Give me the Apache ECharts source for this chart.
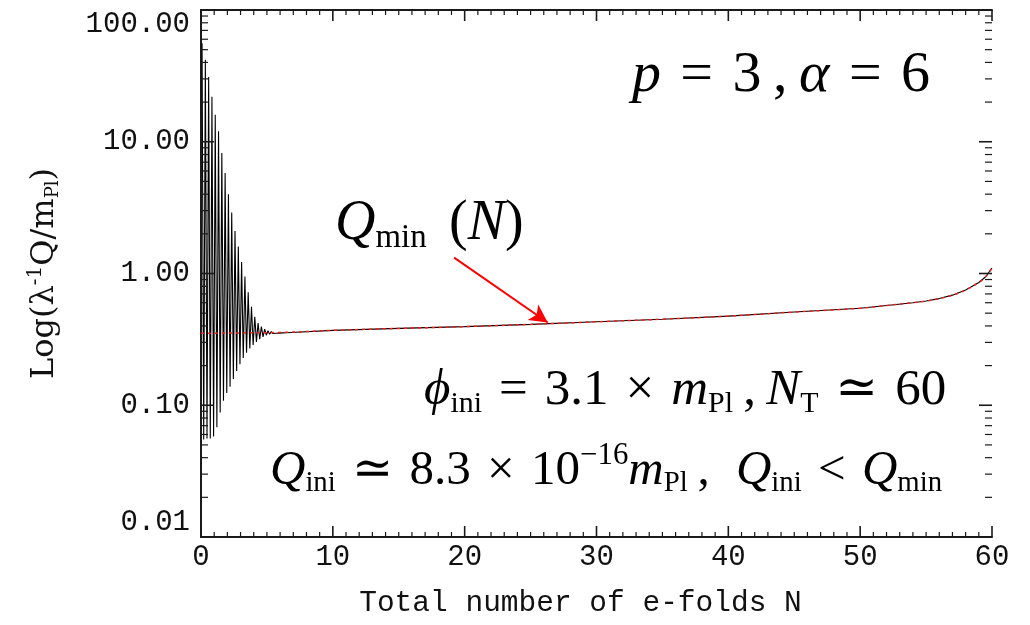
<!DOCTYPE html>
<html><head><meta charset="utf-8">
<script src="https://cdn.jsdelivr.net/npm/echarts@6/dist/echarts.min.js"></script>
<style>html,body{margin:0;padding:0;background:#fff}#c{width:1030px;height:625px}</style>
</head><body><div id="c"></div>
<script>
// ---- data ----
const xTickValues = [0, 10, 20, 30, 40, 50, 60];
const xMinorTicks = [1,2,3,4,5,6,7,8,9,11,12,13,14,15,16,17,18,19,21,22,23,24,25,26,27,28,29,31,32,33,34,35,36,37,38,39,41,42,43,44,45,46,47,48,49,51,52,53,54,55,56,57,58,59];
const yTickValues = [0.01, 0.1, 1, 10, 100];
const yMinorTicks = [0.02,0.03,0.04,0.05,0.06,0.07,0.08,0.09,0.2,0.3,0.4,0.5,0.6,0.7,0.8,0.9,2,3,4,5,6,7,8,9,20,30,40,50,60,70,80,90];

// oscillation maxima of Q(N)
const peakN = [0.08,0.33,0.58,0.83,1.08,1.33,1.58,1.83,2.08,2.33,2.58,2.83,3.08,3.33,3.58,3.83,4.08,4.33,4.58,4.83,5.08,5.33,5.58,5.83,6.08,6.33];
const peakQ = [56,42,31,22,16,12,8.2,5.8,4.0,2.9,2.1,1.6,1.22,0.95,0.72,0.56,0.47,0.42,0.395,0.378,0.368,0.363,0.36,0.358,0.357,0.357];
// oscillation minima of Q(N)
const troughN = [0.205,0.455,0.705,0.955,1.205,1.455,1.705,1.955,2.205,2.455,2.705,2.955,3.205,3.455,3.705,3.955,4.205,4.455,4.705,4.955,5.205,5.455,5.705,5.955,6.205,6.455];
const troughQ = [0.055,0.056,0.056,0.058,0.068,0.088,0.108,0.124,0.138,0.158,0.182,0.205,0.228,0.25,0.27,0.287,0.302,0.317,0.33,0.34,0.346,0.35,0.352,0.353,0.354,0.355];

// Q_min(N), which Q(N) follows after the oscillations
const qminN = [0, 3, 6, 10, 15, 20, 25, 30, 35, 40, 45, 50, 52, 54, 55, 56, 57, 58, 59, 59.5, 60];
const qminQ = [0.352,0.354,0.357,0.37,0.383,0.395,0.411,0.43,0.45,0.475,0.51,0.545,0.572,0.6,0.618,0.645,0.685,0.75,0.855,0.94,1.1];

// annotation arrow (data coords: N, Q)
const arrowFrom = [19.2, 1.32];
const arrowTo = [26.3, 0.425];

// ---- build series data ----
const qData = [];
for (let i = 0; i < peakN.length; i++) {
  qData.push([peakN[i], peakQ[i]]);
  qData.push([troughN[i], troughQ[i]]);
}
for (let i = 0; i < qminN.length; i++) {
  if (qminN[i] > troughN[troughN.length - 1]) qData.push([qminN[i], qminQ[i]]);
}
const qminData = qminN.map((n, i) => [n, qminQ[i]]);

const AX = '#1a1a1a';
const labelFont = 'Liberation Mono';
const serif = '"Liberation Serif", "DejaVu Serif", serif';
const dserif = '"DejaVu Serif", serif';

function tickSeries(values, isX, len, width) {
  return {
    type: 'custom', xAxisIndex: 0, yAxisIndex: 0, silent: true, clip: false, z: 6,
    data: values.map(v => isX ? [v, 1] : [0, v]),
    renderItem: function (params, api) {
      const cs = params.coordSys;
      const st = { stroke: AX, lineWidth: width };
      if (isX) {
        const p = api.coord([api.value(0), 1]);
        return { type: 'group', children: [
          { type: 'line', shape: { x1: p[0], y1: cs.y + cs.height, x2: p[0], y2: cs.y + cs.height - len }, style: st },
          { type: 'line', shape: { x1: p[0], y1: cs.y, x2: p[0], y2: cs.y + len }, style: st }
        ] };
      }
      const p = api.coord([0, api.value(1)]);
      return { type: 'group', children: [
        { type: 'line', shape: { x1: cs.x, y1: p[1], x2: cs.x + len, y2: p[1] }, style: st },
        { type: 'line', shape: { x1: cs.x + cs.width - len, y1: p[1], x2: cs.x + cs.width, y2: p[1] }, style: st }
      ] };
    }
  };
}

function mathText(x, y, text, size) {
  const k = size / 46;
  return {
    type: 'text', x: x, y: y, z: 100,
    style: {
      text: text,
      align: 'left', verticalAlign: 'middle',
      rich: {
        rm: { fontFamily: serif, fontSize: 46 * k, color: '#000' },
        it: { fontFamily: serif, fontSize: 46 * k, fontStyle: 'italic', color: '#000' },
        sub: { fontFamily: serif, fontSize: 27 * k, color: '#000', padding: [24 * k, 0, 0, 0] },
        sup: { fontFamily: serif, fontSize: 29 * k, color: '#000', padding: [0, 0, 28 * k, 0] }
      }
    }
  };
}

const noTick = { show: false };
const S = '\u2004', T = '\u2009';
const chart = echarts.init(document.getElementById('c'), null, { renderer: 'canvas' });
chart.setOption({
  animation: false,
  backgroundColor: '#fff',
  grid: { left: 201, right: 38, top: 10, bottom: 88 },
  xAxis: [
    {
      type: 'value', min: 0, max: 60, interval: 10, position: 'bottom',
      axisLine: { show: true, lineStyle: { color: AX, width: 2 } }, splitLine: { show: false },
      name: 'Total number of e-folds N', nameLocation: 'middle', nameGap: 51,
      nameTextStyle: { fontFamily: labelFont, fontSize: 29.5, color: '#111', padding: [0, 32, 0, 0] },
      axisTick: noTick, minorTick: noTick,
      axisLabel: { fontFamily: labelFont, fontSize: 29, color: '#111', margin: 6 }
    },
    {
      type: 'value', min: 0, max: 60, interval: 10, position: 'top',
      axisLine: { show: true, lineStyle: { color: AX, width: 2 } }, splitLine: { show: false },
      axisTick: noTick, minorTick: noTick, axisLabel: { show: false }
    }
  ],
  yAxis: [
    {
      type: 'log', logBase: 10, min: 0.01, max: 100, position: 'left',
      axisLine: { show: true, lineStyle: { color: AX, width: 2 } }, splitLine: { show: false },
      name: '{a|Log(λ}{sup|-1}{a|Q/m}{sub|Pl}{a|)}', nameLocation: 'middle', nameGap: 138, nameRotate: 90,
      nameTextStyle: {
        fontFamily: dserif, fontSize: 32, color: '#111',
        rich: {
          a: { fontFamily: dserif, fontSize: 32, color: '#111' },
          sup: { fontFamily: dserif, fontSize: 20, color: '#111', padding: [0, 0, 17, 0] },
          sub: { fontFamily: dserif, fontSize: 18, color: '#111', padding: [17, 0, 0, 0] }
        }
      },
      axisTick: noTick, minorTick: noTick,
      axisLabel: {
        fontFamily: labelFont, fontSize: 29, color: '#111', margin: 11,
        formatter: v => v.toFixed(2),
        verticalAlignMaxLabel: 'top', verticalAlignMinLabel: 'bottom'
      }
    },
    {
      type: 'log', logBase: 10, min: 0.01, max: 100, position: 'right',
      axisLine: { show: true, lineStyle: { color: AX, width: 2 } }, splitLine: { show: false },
      axisTick: noTick, minorTick: noTick, axisLabel: { show: false }
    }
  ],
  graphic: [
    mathText(632, 76, '{it|p}{rm|' + S + '=' + S + '3' + T + ',' + T + '}{it|α}{rm|' + S + '=' + S + '6}', 58),
    mathText(335, 224, '{it|Q}{sub|min}{rm|' + T + T + '(}{it|N}{rm|)}', 56),
    mathText(424, 391, '{it|ϕ}{sub|ini}{rm|' + S + '=' + S + '3.1' + S + '×' + S + '}{it|m}{sub|Pl}{rm|' + T + ',' + T + '}{it|N}{sub|T}{rm|' + S + '≃' + S + '60}', 51),
    mathText(270, 471, '{it|Q}{sub|ini}{rm|' + S + '≃' + S + '8.3' + S + '×' + S + '10}{sup|−16}{it|m}{sub|Pl}{rm|' + T + ',' + S + T + '}{it|Q}{sub|ini}{rm|' + S + '<' + S + '}{it|Q}{sub|min}', 49)
  ],
  series: [
    tickSeries(xTickValues, true, 11, 1.6),
    tickSeries(xMinorTicks, true, 5, 1.2),
    tickSeries(yTickValues, false, 13, 1.6),
    tickSeries(yMinorTicks, false, 7, 1.2),
    {
      type: 'line', name: 'Q', data: qData, showSymbol: false, symbol: 'none',
      lineStyle: { color: '#000', width: 1.1 }, z: 3
    },
    {
      type: 'line', name: 'Qmin', data: qminData, showSymbol: false, symbol: 'none', smooth: true,
      lineStyle: { color: '#ff1a1a', width: 1.5, type: [3, 4] }, z: 4,
      markLine: {
        silent: true, symbol: ['none', 'arrow'], symbolSize: [14, 18],
        label: { show: false },
        lineStyle: { color: '#ff0000', width: 2, type: 'solid' },
        data: [[{ coord: arrowFrom }, { coord: arrowTo }]]
      }
    }
  ]
});
</script>
</body></html>
